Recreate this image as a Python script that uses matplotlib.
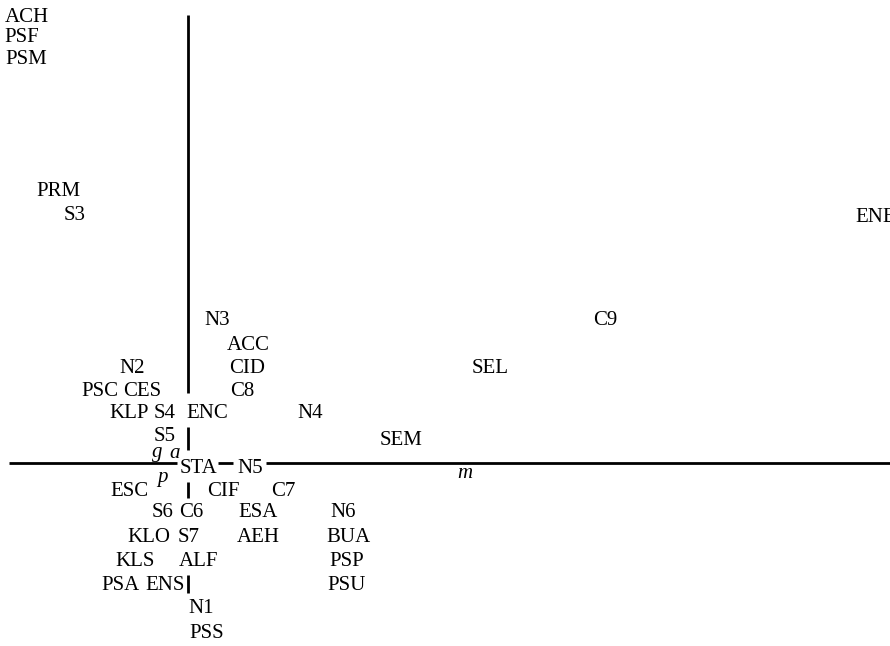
import matplotlib
matplotlib.use("Agg")
import matplotlib.pyplot as plt

# category labels, plane coordinates (axis 1, axis 2)
labels = ["ACH", "PSF", "PSM", "PRM", "S3", "ENE",
          "N3", "C9", "ACC", "CID", "SEL", "N2",
          "PSC", "CES", "C8", "KLP", "S4", "ENC", "N4",
          "S5", "SEM", "STA", "N5",
          "ESC", "CIF", "C7",
          "S6", "C6", "ESA", "N6",
          "KLO", "S7", "AEH", "BUA",
          "KLS", "ALF", "PSP",
          "PSA", "ENS", "PSU",
          "N1", "PSS"]
x_vals = [-1.61, -1.66, -1.62, -1.30, -1.13, 6.88,
          0.29, 4.17, 0.60, 0.59, 3.02, -0.56,
          -0.88, -0.46, 0.54, -0.59, -0.23, 0.19, 1.22,
          -0.23, 2.13, 0.10, 0.62,
          -0.59, 0.35, 0.95,
          -0.25, 0.03, 0.70, 1.55,
          -0.39, 0.01, 0.70, 1.60,
          -0.53, 0.11, 1.59,
          -0.67, -0.23, 1.59,
          0.13, 0.19]
y_vals = [4.415, 4.205, 3.985, 2.675, 2.435, 2.41,
          1.38, 1.38, 1.125, 0.90, 0.90, 0.90,
          0.67, 0.67, 0.67, 0.45, 0.45, 0.45, 0.45,
          0.22, 0.18, -0.10, -0.10,
          -0.33, -0.33, -0.33,
          -0.54, -0.54, -0.54, -0.54,
          -0.79, -0.79, -0.79, -0.79,
          -1.03, -1.03, -1.03,
          -1.27, -1.27, -1.27,
          -1.50, -1.75]

# supplementary (italic) points
sup_labels = ["g", "a", "p", "m"]
sup_x = [-0.31, -0.13, -0.26, 2.77]
sup_y = [0.065, 0.05, -0.19, -0.15]

fig = plt.figure(figsize=(8.9, 6.46), dpi=100)
ax = fig.add_axes([0, 0, 1, 1])
ax.set_xlim(-1.88, 7.02)
ax.set_ylim(-1.83, 4.63)
ax.axis("off")

# axes drawn through the origin, broken where labels sit
for y0, y1 in [(4.48, 0.70), (0.36, 0.13), (-0.19, -0.35), (-1.12, -1.30)]:
    ax.plot([0, 0], [y0, y1], color="black", lw=2.0, solid_capstyle="butt")
for x0, x1 in [(-1.79, -0.11), (0.30, 0.45), (0.78, 7.02)]:
    ax.plot([x0, x1], [0, 0], color="black", lw=2.0, solid_capstyle="butt")

for lab, x, y in zip(labels, x_vals, y_vals):
    ax.text(x, y, lab, ha="center", va="baseline", fontsize=15,
            family="Liberation Serif", clip_on=False)

for lab, x, y in zip(sup_labels, sup_x, sup_y):
    ax.text(x, y, lab, ha="center", va="baseline", fontsize=15,
            family="Liberation Serif", style="italic")

fig.savefig("out.png", dpi=100)
